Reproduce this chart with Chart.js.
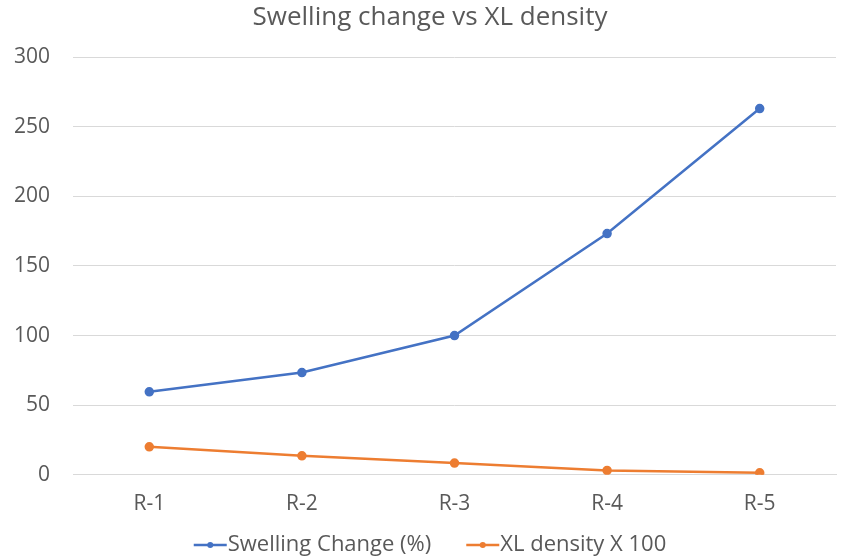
<!DOCTYPE html>
<html>
<head>
<meta charset="utf-8">
<script src="https://cdn.jsdelivr.net/npm/chart.js@4.4.1/dist/chart.umd.min.js"></script>
<style>
  html, body { margin: 0; padding: 0; background: #ffffff; }
  #wrap { width: 842px; height: 560px; }
</style>
</head>
<body>
<div id="wrap"><canvas id="c" width="842" height="560"></canvas></div>
<script>
// Sample runs and measured values
const categories = ['R-1', 'R-2', 'R-3', 'R-4', 'R-5'];
const swellingChange = [59.6, 73.4, 100, 173.2, 263];
const xlDensityX100 = [20.1, 13.6, 8.4, 3.1, 1.4];
const yTicks = [0, 50, 100, 150, 200, 250, 300];

const chartTitle = 'Swelling change vs XL density';

const BLUE = '#4472C4';
const ORANGE = '#ED7D31';
const TEXT = '#595959';
const FONT = "'Open Sans', 'Noto Sans', sans-serif";
const CENTER_X = 430;

// Title on top and a bottom legend (short line with a dot, then the series name)
const frameText = {
  id: 'frameText',
  afterDraw(chart) {
    const ctx = chart.ctx;
    ctx.save();
    ctx.fillStyle = TEXT;
    ctx.textBaseline = 'middle';
    ctx.textAlign = 'center';
    ctx.font = `26px ${FONT}`;
    ctx.fillText(chartTitle, CENTER_X, 18);

    const y = 545;
    const markerW = 33, gapText = 1, gapItem = 35;
    ctx.font = `22px ${FONT}`;
    const items = chart.data.datasets.map(ds => ({
      label: ds.label, color: ds.borderColor,
      w: markerW + gapText + ctx.measureText(ds.label).width
    }));
    const total = items.reduce((s, it) => s + it.w, 0) + gapItem * (items.length - 1);
    let x = CENTER_X - total / 2;
    items.forEach(it => {
      ctx.strokeStyle = it.color;
      ctx.lineWidth = 2.5;
      ctx.beginPath(); ctx.moveTo(x, y); ctx.lineTo(x + markerW, y); ctx.stroke();
      ctx.fillStyle = it.color;
      ctx.beginPath(); ctx.arc(x + markerW / 2, y, 3, 0, Math.PI * 2); ctx.fill();
      ctx.fillStyle = TEXT;
      ctx.textAlign = 'left';
      ctx.fillText(it.label, x + markerW + gapText, y);
      x += it.w + gapItem;
    });
    ctx.restore();
  }
};

const seriesStyle = color => ({
  borderColor: color,
  backgroundColor: color,
  borderWidth: 2.5,
  pointRadius: 3.5,
  pointHoverRadius: 3.5,
  pointStyle: 'circle',
  tension: 0
});

new Chart(document.getElementById('c'), {
  type: 'line',
  data: {
    labels: categories,
    datasets: [
      Object.assign({ label: 'Swelling Change (%)', data: swellingChange }, seriesStyle(BLUE)),
      Object.assign({ label: 'XL density X 100', data: xlDensityX100 }, seriesStyle(ORANGE))
    ]
  },
  options: {
    responsive: false,
    animation: false,
    layout: { padding: { left: 0, right: 6, top: 57, bottom: 26 } },
    plugins: {
      title: { display: false },
      legend: { display: false },
      tooltip: { enabled: false }
    },
    scales: {
      x: {
        offset: true,
        grid: { display: false, drawTicks: false },
        border: { display: true, color: '#d9d9d9', width: 1 },
        ticks: { color: TEXT, font: { family: FONT, size: 21 }, padding: 17 }
      },
      y: {
        min: 0,
        max: 300,
        afterBuildTicks(scale) { scale.ticks = yTicks.map(v => ({ value: v })); },
        grid: { color: '#d9d9d9', lineWidth: 1, drawTicks: false },
        border: { display: false },
        ticks: { color: TEXT, font: { family: FONT, size: 21 }, padding: 23 },
        afterFit(scale) { scale.width = 73; }
      }
    }
  },
  plugins: [frameText]
});
</script>
</body>
</html>
